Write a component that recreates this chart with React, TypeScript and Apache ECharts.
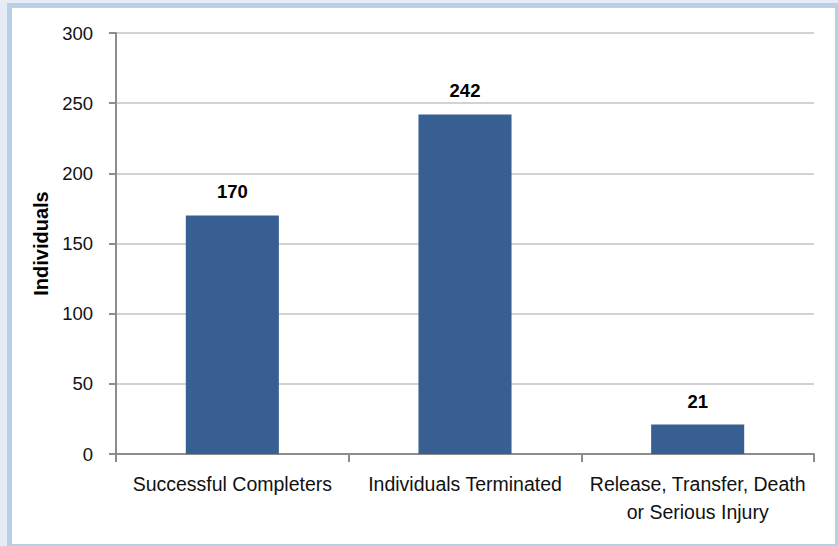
import React, { useEffect, useRef } from "react";
import * as echarts from "echarts";

const categories = [
  "Successful Completers",
  "Individuals Terminated",
  "Release, Transfer, Death\nor Serious Injury",
];
const values = [170, 242, 21];
const yTicks = { min: 0, max: 300, interval: 50 };
const yAxisTitle = "Individuals";

const FONT = "'Liberation Sans', Arial, sans-serif";

export default function App() {
  const ref = useRef<HTMLDivElement>(null);
  useEffect(() => {
    if (!ref.current) return;
    const chart = echarts.init(ref.current, undefined, { renderer: "svg" });
    chart.setOption({
      animation: false,
      backgroundColor: "transparent",
      grid: { left: 116, right: 24, top: 33, bottom: 92, containLabel: false },
      xAxis: {
        type: "category",
        data: categories,
        axisLine: { show: true, lineStyle: { color: "#8c8c8c", width: 2 } },
        axisTick: { show: true, length: 8, lineStyle: { color: "#8c8c8c", width: 2 } },
        axisLabel: {
          color: "#111",
          fontFamily: FONT,
          fontSize: 19.5,
          lineHeight: 28,
          margin: 16,
          interval: 0,
        },
      },
      yAxis: {
        type: "value",
        min: yTicks.min,
        max: yTicks.max,
        interval: yTicks.interval,
        name: yAxisTitle,
        nameLocation: "middle",
        nameGap: 64,
        nameRotate: 90,
        nameTextStyle: { color: "#000", fontFamily: FONT, fontSize: 20, fontWeight: "bold" },
        axisLine: { show: true, lineStyle: { color: "#8c8c8c", width: 2 } },
        axisTick: { show: true, length: 7, lineStyle: { color: "#8c8c8c", width: 2 } },
        axisLabel: { color: "#111", fontFamily: FONT, fontSize: 18.5, margin: 23 },
        splitLine: { show: true, lineStyle: { color: "#d2d2d2", width: 2 } },
      },
      series: [
        {
          type: "bar",
          data: values,
          barWidth: "40%",
          itemStyle: { color: "#375f92" },
          label: {
            show: true,
            position: "top",
            distance: 14,
            color: "#000",
            fontFamily: FONT,
            fontSize: 18.5,
            fontWeight: "bold",
          },
        },
      ],
    });
    return () => chart.dispose();
  }, []);

  return (
    <div style={{ position: "fixed", left: 0, top: 0, width: 838, height: 546, background: "#e5ecf5", overflow: "hidden" }}>
      <div style={{ position: "absolute", left: 7, top: 3, width: 831, height: 543, background: "#b9cfe6" }} />
      <div style={{ position: "absolute", left: 12, top: 8, width: 823, height: 536, background: "#ffffff" }} />
      <div ref={ref} style={{ position: "absolute", left: 0, top: 0, width: 838, height: 546 }} />
    </div>
  );
}
